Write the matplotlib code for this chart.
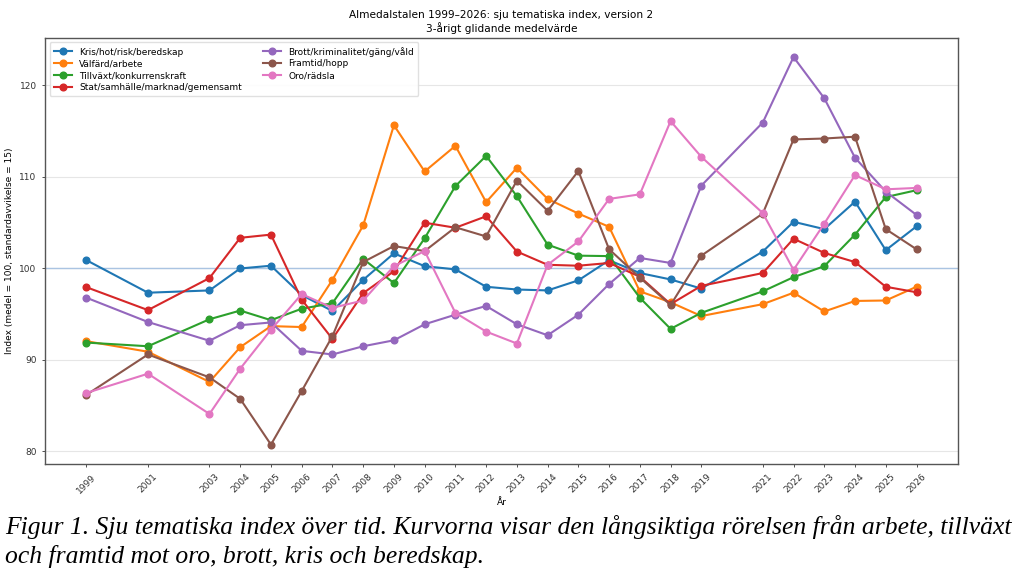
import matplotlib
matplotlib.use("Agg")
import matplotlib.pyplot as plt

years = [1999, 2001, 2003, 2004, 2005, 2006, 2007, 2008, 2009, 2010, 2011, 2012, 2013,
         2014, 2015, 2016, 2017, 2018, 2019, 2021, 2022, 2023, 2024, 2025, 2026]

kris = [100.9, 97.35, 97.6, 100.0, 100.3, 97.1, 95.35, 98.75, 101.65, 100.25, 99.9, 98.0, 97.7,
        97.6, 98.7, 100.9, 99.5, 98.8, 97.8, 101.85, 105.1, 104.3, 107.3, 102.0, 104.6]
valfard = [92.05, 90.9, 87.6, 91.4, 93.7, 93.6, 98.75, 104.7, 115.65, 110.6, 113.4, 107.25, 111.0,
           107.6, 106.0, 104.55, 97.5, 96.3, 94.8, 96.1, 97.35, 95.3, 96.45, 96.5, 98.0]
tillvaxt = [91.9, 91.5, 94.45, 95.4, 94.35, 95.6, 96.2, 101.05, 98.4, 103.3, 109.0, 112.3, 107.9,
            102.6, 101.4, 101.35, 96.8, 93.4, 95.15, 97.5, 99.05, 100.25, 103.7, 107.8, 108.55]
stat = [97.95, 95.45, 98.95, 103.35, 103.7, 96.6, 92.3, 97.3, 99.7, 105.0, 104.45, 105.7, 101.85,
        100.4, 100.3, 100.6, 99.1, 96.1, 98.1, 99.5, 103.25, 101.7, 100.7, 98.0, 97.4]
brott = [96.8, 94.15, 92.1, 93.8, 94.1, 91.0, 90.6, 91.5, 92.15, 93.9, 94.95, 95.9, 93.9,
         92.7, 94.95, 98.3, 101.15, 100.6, 109.05, 115.95, 123.1, 118.6, 112.1, 108.4, 105.85]
framtid = [86.2, 90.6, 88.1, 85.75, 80.75, 86.6, 92.6, 100.7, 102.45, 101.9, 104.5, 103.5, 109.6,
           106.3, 110.65, 102.1, 99.0, 96.0, 101.4, 106.0, 114.1, 114.2, 114.4, 104.3, 102.1]
oro = [86.4, 88.5, 84.1, 89.05, 93.3, 97.2, 95.7, 96.5, 100.25, 101.9, 95.15, 93.1, 91.8,
       100.4, 102.95, 107.6, 108.1, 116.1, 112.2, 106.05, 99.85, 104.9, 110.2, 108.65, 108.8]

series = [
    ("Kris/hot/risk/beredskap", kris),
    ("Välfärd/arbete", valfard),
    ("Tillväxt/konkurrenskraft", tillvaxt),
    ("Stat/samhälle/marknad/gemensamt", stat),
    ("Brott/kriminalitet/gäng/våld", brott),
    ("Framtid/hopp", framtid),
    ("Oro/rädsla", oro),
]

title = "Almedalstalen 1999–2026: sju tematiska index, version 2\n3-årigt glidande medelvärde"
ylabel = "Index (medel = 100, standardavvikelse = 15)"
xlabel = "År"
caption_lines = [
    "Figur 1. Sju tematiska index över tid. Kurvorna visar den långsiktiga rörelsen från arbete, tillväxt",
    "och framtid mot oro, brott, kris och beredskap.",
]

fs = 6.5
fig = plt.figure(figsize=(10.24, 5.83), dpi=100)
ax = fig.add_axes([45 / 1024, 1 - 464 / 583, (958 - 45) / 1024, (464 - 37.7) / 583])

ax.axhline(100, color="#aac4e2", linewidth=1.0, zorder=1)
for i, (name, vals) in enumerate(series):
    ax.plot(years, vals, marker="o", color=f"C{i}", linewidth=1.5, markersize=4.8,
            label=name, zorder=3)

ax.set_xticks(years)
ax.set_xticklabels([str(y) for y in years], rotation=45, fontsize=fs)
ax.tick_params(axis="y", labelsize=fs)
ax.tick_params(length=2.5, width=0.6, colors="#333333")
ax.yaxis.grid(True, color="#e6e6e6", linewidth=0.8, zorder=0)
ax.set_axisbelow(True)
for sp in ax.spines.values():
    sp.set_color("#555555")
    sp.set_linewidth(1.0)

ax.set_title(title, fontsize=7.6, pad=4)
ax.set_ylabel(ylabel, fontsize=fs)
ax.set_xlabel(xlabel, fontsize=fs, labelpad=2)

ax.legend(loc="upper left", ncol=2, fontsize=fs, frameon=True, framealpha=0.9,
          edgecolor="#dddddd", handlelength=2.0, borderpad=0.5, columnspacing=2.3,
          labelspacing=0.3)

# caption
cap_font = dict(family="Liberation Serif", style="italic", color="black")
t1 = fig.text(5 / 1024, 1 - 534 / 583, caption_lines[0], fontsize=20, va="baseline", **cap_font)
t2 = fig.text(5 / 1024, 1 - 563 / 583, caption_lines[1], fontsize=20, va="baseline", **cap_font)
fig.canvas.draw()
w = t1.get_window_extent().width
new_fs = 20 * 1007 / w
t1.set_fontsize(new_fs)
t2.set_fontsize(new_fs)

fig.savefig("out.png", dpi=100)
